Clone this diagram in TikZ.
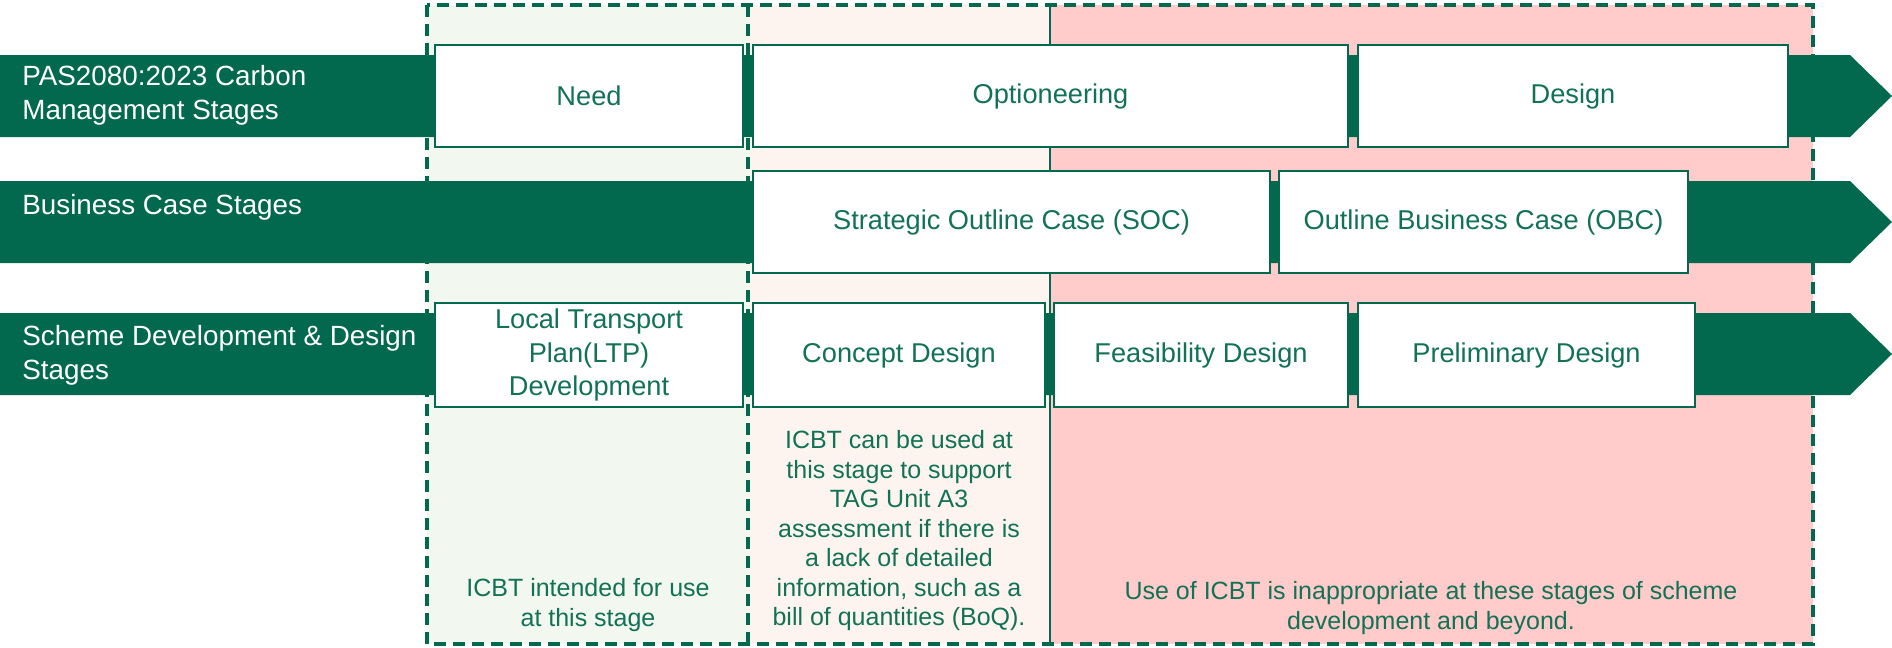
\documentclass[tikz,border=0pt]{standalone}
\usepackage{fontspec}
\setmainfont{Liberation Sans}
\definecolor{dg}{HTML}{02694F}
\definecolor{tg}{HTML}{127256}
\definecolor{gfill}{HTML}{F2F7F0}
\definecolor{bfill}{HTML}{FDF4EF}
\definecolor{pfill}{HTML}{FFCBCB}
\begin{document}
\begin{tikzpicture}[x=0.5pt,y=-0.5pt,
  stagebox/.style={draw=dg, line width=1.4pt, fill=white, inner sep=0pt, text=tg,
    font=\fontsize{13.6}{16.75}\selectfont, align=center},
  bandlabel/.style={anchor=west, text=white, inner sep=0pt, align=left,
    font=\fontsize{13.9}{17}\selectfont},
  note/.style={text=tg, inner sep=0pt, align=center, font=\fontsize{12.5}{14.75}\selectfont},
  region/.style={draw=dg, line width=1.7pt, dash pattern=on 6pt off 3.5pt},
  band/.style={fill=dg}]
\useasboundingbox (0,0) rectangle (1892,648);
% regions
\fill[gfill] (427,5) rectangle (748,644);
\fill[bfill] (748,5) rectangle (1050,644);
\fill[pfill] (1050,5) rectangle (1813,644);
\draw[region] (427,5) rectangle (1813,644);
\draw[region] (748,5) -- (748,644);
\draw[dg, line width=1pt] (1050,5) -- (1050,644);
% bands
\fill[band] (0,55) -- (1850,55) -- (1892,96) -- (1850,137) -- (0,137) -- cycle;
\fill[band] (0,181) -- (1850,181) -- (1892,222) -- (1850,263) -- (0,263) -- cycle;
\fill[band] (0,313) -- (1850,313) -- (1892,354) -- (1850,395) -- (0,395) -- cycle;
% band labels
\node[bandlabel] (l1) at (22,95) {PAS2080:2023 Carbon\\Management Stages};
\node[bandlabel] (l2) at (22,207) {Business Case Stages};
\node[bandlabel] (l3) at (22,355) {Scheme Development \& Design\\Stages};
% row 1
\node[stagebox, minimum width=154pt, minimum height=51pt] (need) at (589,96) {Need};
\node[stagebox, minimum width=297.5pt, minimum height=51pt] (opt) at (1050.5,96) {Optioneering};
\node[stagebox, minimum width=215pt, minimum height=51pt] (des) at (1573,96) {Design};
% row 2
\node[stagebox, minimum width=258.5pt, minimum height=51pt] (soc) at (1011.5,222) {Strategic Outline Case (SOC)};
\node[stagebox, minimum width=204.5pt, minimum height=51pt] (obc) at (1483.5,222) {Outline Business Case (OBC)};
% row 3
\node[stagebox, minimum width=154pt, minimum height=52pt] (ltp) at (589,355) {Local Transport\\Plan(LTP)\\Development};
\node[stagebox, minimum width=146pt, minimum height=52pt] (con) at (899,355) {Concept Design};
\node[stagebox, minimum width=147pt, minimum height=52pt] (fea) at (1201,355) {Feasibility Design};
\node[stagebox, minimum width=168.5pt, minimum height=52pt] (pre) at (1526.5,355) {Preliminary Design};
% notes
\node[note] (n1) at (588,605) {ICBT intended for use\\at this stage};
\node[note] (n2) at (899,531) {ICBT can be used at\\this stage to support\\TAG Unit A3\\assessment if there is\\a lack of detailed\\information, such as a\\bill of quantities (BoQ).};
\node[note] (n3) at (1431,608) {Use of ICBT is inappropriate at these stages of scheme\\development and beyond.};
\end{tikzpicture}
\end{document}
